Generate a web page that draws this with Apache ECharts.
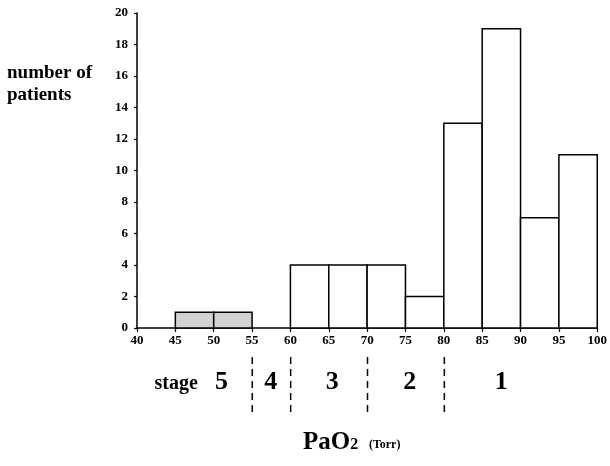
<!DOCTYPE html>
<html>
<head>
<meta charset="utf-8">
<script src="https://cdn.jsdelivr.net/npm/echarts@6/dist/echarts.min.js"></script>
<style>
  html, body { margin: 0; padding: 0; background: #fff; }
  #main { width: 610px; height: 466px; }
</style>
</head>
<body>
<div id="main"></div>
<script>
// bins of PaO2 (Torr), number of patients in each
var binStart = [45, 50, 60, 65, 70, 75, 80, 85, 90, 95];
var binEnd   = [50, 55, 65, 70, 75, 80, 85, 90, 95, 100];
var patients = [1, 1, 4, 4, 4, 2, 13, 19, 7, 11];
var shaded   = [1, 1, 0, 0, 0, 0, 0, 0, 0, 0];

// stage boundaries and label positions under the axis
var stageBounds = [55, 60, 70, 80];
var stageNames = ['5', '4', '3', '2', '1'];
var stagePos = [51, 57.4, 65.4, 75.5, 87.4];

var yTicks = [0, 2, 4, 6, 8, 10, 12, 14, 16, 18, 20];

var FONT = '"Liberation Serif", "DejaVu Serif", serif';

var histData = binStart.map(function (s, i) {
    return [s, binEnd[i], patients[i], shaded[i]];
});

var myChart = echarts.init(document.getElementById('main'));

var option = {
    backgroundColor: '#fff',
    animation: false,
    textStyle: { fontFamily: FONT },
    grid: [
        { left: 137, right: 12, top: 13, bottom: 138 },
        { left: 137, right: 12, top: 357, height: 55 }
    ],
    xAxis: [{
        type: 'value',
        min: 40, max: 100, interval: 5,
        splitLine: { show: false },
        axisLine: { lineStyle: { color: '#000', width: 1.5 } },
        axisTick: { length: 4, lineStyle: { color: '#000', width: 1.2 } },
        axisLabel: { color: '#000', fontFamily: FONT, fontWeight: 'bold', fontSize: 13, margin: 6 }
    }, {
        type: 'value', gridIndex: 1, min: 40, max: 100, show: false
    }],
    yAxis: [{
        type: 'value',
        min: 0, max: 20, interval: 2,
        splitLine: { show: false },
        axisLine: { show: true, lineStyle: { color: '#000', width: 1.5 } },
        axisTick: { show: true, length: 3, lineStyle: { color: '#000', width: 1.2 } },
        axisLabel: {
            color: '#000', fontFamily: FONT, fontWeight: 'bold', fontSize: 13, margin: 9,
            formatter: function (v) { return yTicks.indexOf(v) >= 0 ? String(v) : ''; }
        }
    }, {
        type: 'value', gridIndex: 1, min: 0, max: 1, show: false
    }],
    graphic: [{
        type: 'text', left: 7, top: 62,
        style: {
            text: 'number of\npatients', fill: '#000',
            font: 'bold 19px ' + FONT, lineHeight: 22
        }
    }, {
        type: 'text', left: 303, top: 430,
        style: {
            text: '{a|PaO}{b|2}  {c|(Torr)}',
            rich: {
                a: { fontFamily: FONT, fontWeight: 'bold', fontSize: 25, fill: '#000' },
                b: { fontFamily: FONT, fontWeight: 'bold', fontSize: 16, fill: '#000', padding: [5, 0, 0, 0] },
                c: { fontFamily: FONT, fontWeight: 'bold', fontSize: 12, fill: '#000', padding: [4, 0, 0, 4] }
            }
        }
    }],
    series: [{
        type: 'custom',
        name: 'patients',
        xAxisIndex: 0, yAxisIndex: 0,
        data: histData,
        renderItem: function (params, api) {
            var p0 = api.coord([api.value(0), api.value(2)]);
            var p1 = api.coord([api.value(1), 0]);
            return {
                type: 'rect',
                shape: { x: p0[0], y: p0[1], width: p1[0] - p0[0], height: p1[1] - p0[1] },
                style: {
                    fill: api.value(3) ? '#d2d2d2' : '#fff',
                    stroke: '#000', lineWidth: 1.5
                }
            };
        }
    }, {
        type: 'custom',
        name: 'bounds',
        xAxisIndex: 1, yAxisIndex: 1,
        data: stageBounds.map(function (b) { return [b]; }),
        renderItem: function (params, api) {
            var top = api.coord([api.value(0), 1]);
            var bot = api.coord([api.value(0), 0]);
            return {
                type: 'line',
                shape: { x1: top[0], y1: top[1], x2: bot[0], y2: bot[1] },
                style: { stroke: '#000', lineWidth: 1.5, lineDash: [7, 5] }
            };
        }
    }, {
        type: 'custom',
        name: 'stages',
        xAxisIndex: 1, yAxisIndex: 1,
        data: stagePos.map(function (x, i) { return [x, stageNames[i]]; }),
        renderItem: function (params, api) {
            var p = api.coord([api.value(0), 0.5]);
            var items = [{
                type: 'text',
                style: {
                    x: p[0], y: p[1] - 2, text: stageNames[params.dataIndex],
                    fill: '#000', font: 'bold 26px ' + FONT,
                    align: 'center', verticalAlign: 'middle'
                }
            }];
            if (params.dataIndex === 0) {
                var s = api.coord([45.1, 0.5]);
                items.push({
                    type: 'text',
                    style: {
                        x: s[0], y: s[1] - 1, text: 'stage',
                        fill: '#000', font: 'bold 20px ' + FONT,
                        align: 'center', verticalAlign: 'middle'
                    }
                });
            }
            return { type: 'group', children: items };
        }
    }]
};

myChart.setOption(option);
</script>
</body>
</html>
